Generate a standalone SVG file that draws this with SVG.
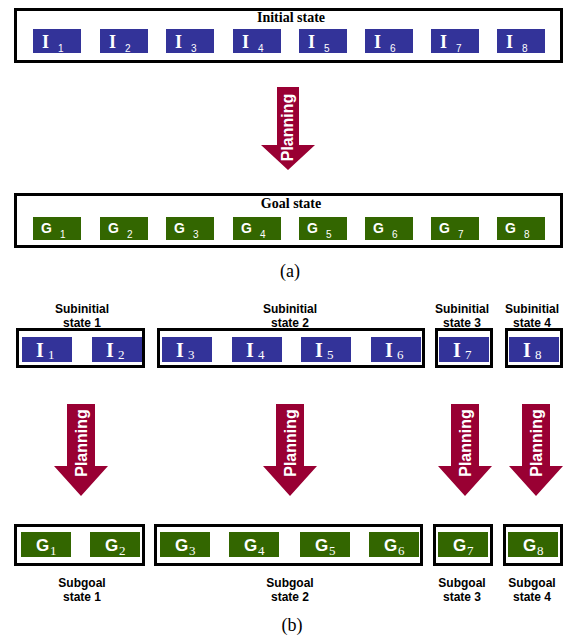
<svg xmlns="http://www.w3.org/2000/svg" width="566" height="637" viewBox="0 0 566 637">
<style>
.frame{fill:none;stroke:#000;stroke-width:3}
.ib{fill:#333399}
.gb{fill:#336600}
.arr{fill:#990033}
.ia{font-family:"Liberation Serif",serif;font-weight:bold;font-size:18px;fill:#fff}
.sa{font-family:"Liberation Sans",sans-serif;font-size:10px;fill:#fff}
.ga{font-family:"Liberation Sans",sans-serif;font-weight:bold;font-size:14px;fill:#fff}
.ibt{font-family:"Liberation Serif",serif;font-weight:bold;font-size:20px;fill:#fff}
.sb{font-family:"Liberation Serif",serif;font-size:13px;fill:#fff}
.gbt{font-family:"Liberation Sans",sans-serif;font-weight:bold;font-size:17px;fill:#fff}
.ttl{font-family:"Liberation Serif",serif;font-weight:bold;font-size:14px;fill:#000;text-anchor:middle}
.lbl{font-family:"Liberation Sans",sans-serif;font-weight:bold;font-size:12px;fill:#000;text-anchor:middle}
.cap{font-family:"Liberation Serif",serif;font-size:18px;fill:#000;text-anchor:middle}
.pl{font-family:"Liberation Sans",sans-serif;font-weight:bold;font-size:16px;fill:#fff;text-anchor:middle}
</style>
<rect x="0" y="0" width="566" height="637" fill="#fff"/>

<!-- Panel (a) -->
<g id="initial-state">
<rect class="frame" x="15.5" y="9.5" width="546" height="52"/>
<text class="ttl" x="291" y="21.5">Initial state</text>
</g>
<g id="a-I1"><rect class="ib" x="33" y="29" width="48" height="24"/><text class="ia" x="42" y="48">I</text><text class="sa" x="58" y="52">1</text></g>
<g id="a-I2"><rect class="ib" x="100" y="29" width="48" height="24"/><text class="ia" x="109" y="48">I</text><text class="sa" x="125" y="52">2</text></g>
<g id="a-I3"><rect class="ib" x="166" y="29" width="48" height="24"/><text class="ia" x="175" y="48">I</text><text class="sa" x="191" y="52">3</text></g>
<g id="a-I4"><rect class="ib" x="233" y="29" width="48" height="24"/><text class="ia" x="242" y="48">I</text><text class="sa" x="258" y="52">4</text></g>
<g id="a-I5"><rect class="ib" x="299" y="29" width="48" height="24"/><text class="ia" x="308" y="48">I</text><text class="sa" x="324" y="52">5</text></g>
<g id="a-I6"><rect class="ib" x="365" y="29" width="48" height="24"/><text class="ia" x="374" y="48">I</text><text class="sa" x="390" y="52">6</text></g>
<g id="a-I7"><rect class="ib" x="431" y="29" width="48" height="24"/><text class="ia" x="440" y="48">I</text><text class="sa" x="456" y="52">7</text></g>
<g id="a-I8"><rect class="ib" x="497" y="29" width="48" height="24"/><text class="ia" x="506" y="48">I</text><text class="sa" x="522" y="52">8</text></g>

<g id="goal-state">
<rect class="frame" x="15.5" y="194.5" width="546" height="52"/>
<text class="ttl" x="291" y="208">Goal state</text>
</g>
<g id="a-G1"><rect class="gb" x="33" y="217" width="48" height="23"/><text class="ga" x="41" y="233">G</text><text class="sa" x="60" y="238">1</text></g>
<g id="a-G2"><rect class="gb" x="100" y="217" width="48" height="23"/><text class="ga" x="108" y="233">G</text><text class="sa" x="127" y="238">2</text></g>
<g id="a-G3"><rect class="gb" x="166" y="217" width="48" height="23"/><text class="ga" x="174" y="233">G</text><text class="sa" x="193" y="238">3</text></g>
<g id="a-G4"><rect class="gb" x="233" y="217" width="48" height="23"/><text class="ga" x="241" y="233">G</text><text class="sa" x="260" y="238">4</text></g>
<g id="a-G5"><rect class="gb" x="299" y="217" width="48" height="23"/><text class="ga" x="307" y="233">G</text><text class="sa" x="326" y="238">5</text></g>
<g id="a-G6"><rect class="gb" x="365" y="217" width="48" height="23"/><text class="ga" x="373" y="233">G</text><text class="sa" x="392" y="238">6</text></g>
<g id="a-G7"><rect class="gb" x="431" y="217" width="48" height="23"/><text class="ga" x="439" y="233">G</text><text class="sa" x="458" y="238">7</text></g>
<g id="a-G8"><rect class="gb" x="497" y="217" width="48" height="23"/><text class="ga" x="505" y="233">G</text><text class="sa" x="524" y="238">8</text></g>

<text class="cap" x="290" y="277">(a)</text>

<!-- Panel (b) -->
<g id="subinitial-1"><rect class="frame" x="17.5" y="329.5" width="126" height="37"/><text class="lbl" x="82" y="313">Subinitial</text><text class="lbl" x="82" y="327">state 1</text></g>
<g id="subinitial-2"><rect class="frame" x="158.5" y="329.5" width="265" height="37"/><text class="lbl" x="290" y="313">Subinitial</text><text class="lbl" x="290" y="327">state 2</text></g>
<g id="subinitial-3"><rect class="frame" x="436.5" y="329.5" width="55" height="37"/><text class="lbl" x="462" y="313">Subinitial</text><text class="lbl" x="462" y="327">state 3</text></g>
<g id="subinitial-4"><rect class="frame" x="506.5" y="329.5" width="55" height="37"/><text class="lbl" x="532" y="313">Subinitial</text><text class="lbl" x="532" y="327">state 4</text></g>

<g id="b-I1"><rect class="ib" x="22" y="337" width="50" height="25"/><text class="ibt" x="36" y="357">I</text><text class="sb" x="48" y="359">1</text></g>
<g id="b-I2"><rect class="ib" x="92" y="337" width="50" height="25"/><text class="ibt" x="106" y="357">I</text><text class="sb" x="118" y="359">2</text></g>
<g id="b-I3"><rect class="ib" x="162" y="337" width="50" height="25"/><text class="ibt" x="176" y="357">I</text><text class="sb" x="188" y="359">3</text></g>
<g id="b-I4"><rect class="ib" x="232" y="337" width="50" height="25"/><text class="ibt" x="246" y="357">I</text><text class="sb" x="258" y="359">4</text></g>
<g id="b-I5"><rect class="ib" x="301" y="337" width="50" height="25"/><text class="ibt" x="315" y="357">I</text><text class="sb" x="327" y="359">5</text></g>
<g id="b-I6"><rect class="ib" x="371" y="337" width="50" height="25"/><text class="ibt" x="385" y="357">I</text><text class="sb" x="397" y="359">6</text></g>
<g id="b-I7"><rect class="ib" x="439" y="337" width="50" height="25"/><text class="ibt" x="453" y="357">I</text><text class="sb" x="465" y="359">7</text></g>
<g id="b-I8"><rect class="ib" x="509" y="337" width="50" height="25"/><text class="ibt" x="523" y="357">I</text><text class="sb" x="535" y="359">8</text></g>

<g id="subgoal-1"><rect class="frame" x="15.5" y="525.5" width="128" height="39"/><text class="lbl" x="82" y="587">Subgoal</text><text class="lbl" x="82" y="601">state 1</text></g>
<g id="subgoal-2"><rect class="frame" x="155.5" y="525.5" width="266" height="39"/><text class="lbl" x="290" y="587">Subgoal</text><text class="lbl" x="290" y="601">state 2</text></g>
<g id="subgoal-3"><rect class="frame" x="434.5" y="525.5" width="57" height="39"/><text class="lbl" x="462" y="587">Subgoal</text><text class="lbl" x="462" y="601">state 3</text></g>
<g id="subgoal-4"><rect class="frame" x="504.5" y="525.5" width="57" height="39"/><text class="lbl" x="532" y="587">Subgoal</text><text class="lbl" x="532" y="601">state 4</text></g>

<g id="b-G1"><rect class="gb" x="21" y="532" width="50" height="25"/><text class="gbt" x="36" y="551">G</text><text class="sb" x="50" y="555">1</text></g>
<g id="b-G2"><rect class="gb" x="90" y="532" width="50" height="25"/><text class="gbt" x="105" y="551">G</text><text class="sb" x="119" y="555">2</text></g>
<g id="b-G3"><rect class="gb" x="160" y="532" width="50" height="25"/><text class="gbt" x="175" y="551">G</text><text class="sb" x="189" y="555">3</text></g>
<g id="b-G4"><rect class="gb" x="229" y="532" width="50" height="25"/><text class="gbt" x="244" y="551">G</text><text class="sb" x="258" y="555">4</text></g>
<g id="b-G5"><rect class="gb" x="300" y="532" width="50" height="25"/><text class="gbt" x="315" y="551">G</text><text class="sb" x="329" y="555">5</text></g>
<g id="b-G6"><rect class="gb" x="369" y="532" width="50" height="25"/><text class="gbt" x="384" y="551">G</text><text class="sb" x="398" y="555">6</text></g>
<g id="b-G7"><rect class="gb" x="438" y="532" width="50" height="25"/><text class="gbt" x="453" y="551">G</text><text class="sb" x="467" y="555">7</text></g>
<g id="b-G8"><rect class="gb" x="508" y="532" width="50" height="25"/><text class="gbt" x="523" y="551">G</text><text class="sb" x="537" y="555">8</text></g>

<text class="cap" x="292" y="631">(b)</text>

<!-- Connectors -->
<g id="connectors">
<polygon class="arr" points="277,87 299,87 299,145 315,145 288,170 261,145 277,145"/>
<text class="pl" transform="translate(293,127.5) rotate(-90)">Planning</text>
<polygon class="arr" points="67,404 95,404 95,466 108,466 81,496 54,466 67,466"/>
<text class="pl" transform="translate(87,443) rotate(-90)">Planning</text>
<polygon class="arr" points="276,404 304,404 304,466 317,466 290,496 263,466 276,466"/>
<text class="pl" transform="translate(296,443) rotate(-90)">Planning</text>
<polygon class="arr" points="451,404 479,404 479,466 492,466 465,496 438,466 451,466"/>
<text class="pl" transform="translate(471,443) rotate(-90)">Planning</text>
<polygon class="arr" points="522,404 550,404 550,466 563,466 536,496 509,466 522,466"/>
<text class="pl" transform="translate(542,443) rotate(-90)">Planning</text>
</g>
</svg>
